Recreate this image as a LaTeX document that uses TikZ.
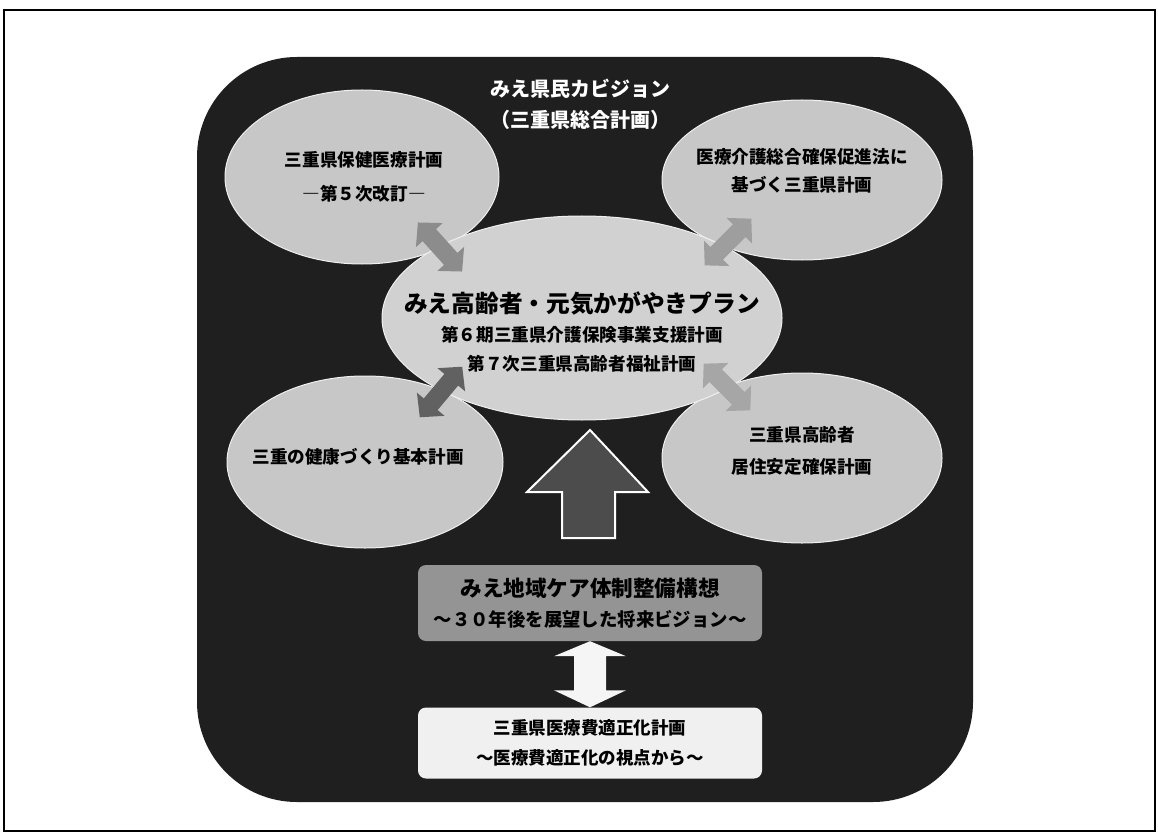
\documentclass[tikz,border=0pt]{standalone}
\usepackage{fontspec}
\setmainfont{Noto Sans CJK JP}
\usepackage{tikz}
\usetikzlibrary{shapes.geometric,calc,positioning}

\begin{document}
\begin{tikzpicture}[x=1pt,y=-1pt]
		\tikzstyle{plan}=[ellipse, fill=black!22, draw=black!6, line width=1pt, inner sep=0pt]
		\tikzstyle{plantext}=[align=center, text=black, font=\bfseries\fontsize{17.6pt}{31pt}\selectfont]
		\tikzstyle{panel}=[rectangle, rounded corners=8pt, minimum width=344pt, align=center, inner sep=0pt, font=\bfseries\fontsize{18.4pt}{30pt}\selectfont]
		\def\linkshape{(-33,0) -- (-16,18) -- (-16,9) -- (16,9) -- (16,18) -- (33,0) -- (16,-18) -- (16,-9) -- (-16,-9) -- (-16,-18) -- cycle}

		\useasboundingbox (0,0) rectangle (1158,834);
		\draw[line width=1.5pt] (4,10) rectangle (1155,831);
		\fill[black!88, rounded corners=100pt] (197,57) rectangle (973,802);

		\node [align=center, text=white, font=\bfseries\fontsize{20pt}{31pt}\selectfont] (vision) at (580,104) {みえ県民カビジョン\\（三重県総合計画）};

		% surrounding plans
		\node [plan, minimum width=274pt, minimum height=174pt] (health) at (362,177) {};
		\node [plan, minimum width=280pt, minimum height=160pt] (fund) at (802,180) {};
		\node [plan, minimum width=276pt, minimum height=172pt] (wellness) at (365,462) {};
		\node [plan, minimum width=280pt, minimum height=170pt] (housing) at (802,458) {};
		\node [plan, fill=black!18, minimum width=400pt, minimum height=204pt] (elder) at (582,318) {};

		\node [plantext, font=\bfseries\fontsize{17.6pt}{34pt}\selectfont] (health text) at ([xshift=2pt]health) {三重県保健医療計画\\―第５次改訂―};
		\node [plantext, font=\bfseries\fontsize{17.6pt}{28pt}\selectfont] (fund text) at ([yshift=9pt]fund) {医療介護総合確保促進法に\\基づく三重県計画};
		\node [plantext] (wellness text) at ([xshift=-7pt,yshift=5pt]wellness) {三重の健康づくり基本計画};
		\node [plantext, font=\bfseries\fontsize{17.6pt}{32pt}\selectfont] (housing text) at ([yshift=7pt]housing) {三重県高齢者\\居住安定確保計画};
		\node [plantext, font=\bfseries\fontsize{17.6pt}{29pt}\selectfont] (elder text) at ([yshift=-14pt]elder) {{\fontsize{23.7pt}{29pt}\selectfont みえ高齢者・元気かがやきプラン}\\第６期三重県介護保険事業支援計画\\第７次三重県高齢者福祉計画};

		% links to the central plan
		\fill [black!45, shift={(440,247)}, rotate=-48] \linkshape;
		\fill [black!38, shift={(728,242)}, rotate=45] \linkshape;
		\fill [black!62, shift={(441,392)}, rotate=50] \linkshape;
		\fill [black!35, shift={(727,387)}, rotate=-45] \linkshape;

		% lower panels
		\node [panel, fill=black!42, minimum height=76pt] (care) at (590,603) {{\fontsize{21.6pt}{30pt}\selectfont みえ地域ケア体制整備構想}\\～３０年後を展望した将来ビジョン～};
		\node [panel, fill=black!6, minimum height=71pt, font=\bfseries\fontsize{17.5pt}{30pt}\selectfont] (cost) at (590,743) {三重県医療費適正化計画\\～医療費適正化の視点から～};

		\coordinate (push tip) at (590,430);
		\draw [fill=black!70, draw=white, line width=2pt, line join=miter]
			(push tip) -- ++(58,62) -- ++(-33,0) -- ++(0,46) -- ++(-53,0) -- ++(0,-46) -- ++(-35,0) -- cycle;
		\fill [black!4]
			(care.south) -- ++(36,15) -- ++(-20,0) -- ($(cost.north)+(16,-17)$) -- ++(20,0) -- (cost.north)
			-- ++(-36,-17) -- ++(20,0) -- ($(care.south)+(-16,15)$) -- ++(-20,0) -- cycle;
	\end{tikzpicture}
\end{document}
